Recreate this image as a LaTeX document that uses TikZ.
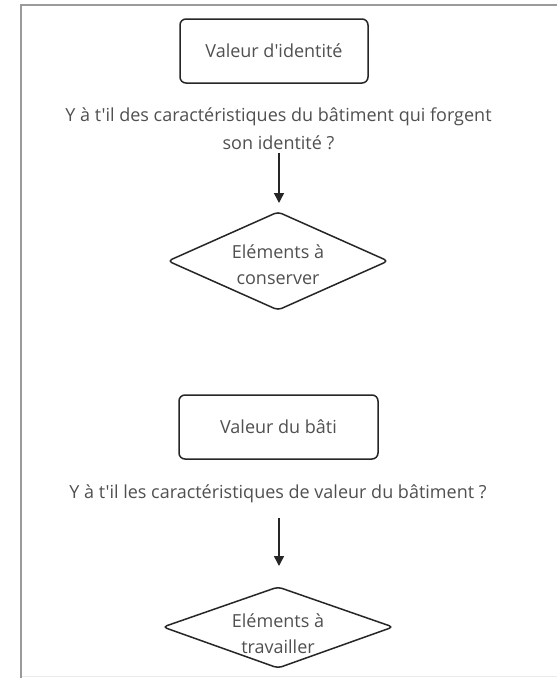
\documentclass[tikz,border=0pt]{standalone}
\usepackage{fontspec}
\setmainfont{Open Sans}[Ligatures=TeXOff]
\usetikzlibrary{arrows.meta}
\definecolor{txt}{HTML}{505050}
\definecolor{frame}{HTML}{9A9A9A}
\tikzset{
  px/.style={x=1pt,y=-1pt},
  boxnode/.style={draw=black!85, line width=1.5pt, rounded corners=6pt, minimum width=188pt, minimum height=64pt, text=txt, font=\fontsize{18}{22}\selectfont, inner sep=0pt},
  qtext/.style={text=txt, font=\fontsize{18}{28}\selectfont, align=center, inner sep=0pt},
  dtext/.style={text=txt, font=\fontsize{18}{26}\selectfont, align=center, inner sep=0pt},
  dshape/.style={draw=black!85, line width=1.5pt, rounded corners=4pt, line join=round},
  flow/.style={draw=black!85, line width=1.5pt, -{Triangle[length=10pt,width=10pt]}},
}
\begin{document}
\begin{tikzpicture}[px]
\useasboundingbox (0,0) rectangle (557,678);
\fill[white] (0,0) rectangle (557,678);
% frame
\draw[frame, line width=2pt] (20,5) -- (557,5);
\draw[frame, line width=2pt] (21,5) -- (21,678);
\draw[black!8, line width=1pt] (22,676.5) -- (557,676.5);

% first block
\node[boxnode, minimum width=188pt] (b1) at (274,51) {Valeur d'identité};
\node[qtext] (q1) at (278.5,129) {Y à t'il des caractéristiques du bâtiment qui forgent\\son identité ?};
\coordinate (a1s) at (279,153);
\draw[dshape] (278,212) -- (388,261) -- (278,310) -- (168,261) -- cycle;
\node[dtext] (d1) at (278,265) {Eléments à\\conserver};
\coordinate (a1e) at (279,203);
\draw[flow] (a1s) -- (a1e);

% second block
\node[boxnode, minimum width=199pt] (b2) at (278.5,427) {Valeur du bâti};
\node[qtext] (q2) at (278,494) {Y à t'il les caractéristiques de valeur du bâtiment ?};
\coordinate (a2s) at (279,518);
\coordinate (a2e) at (279,566);
\draw[dshape] (278,587) -- (393,627) -- (278,668) -- (163,627) -- cycle;
\node[dtext] (d2) at (278,634) {Eléments à\\travailler};
\draw[flow] (a2s) -- (a2e);
\end{tikzpicture}
\end{document}
